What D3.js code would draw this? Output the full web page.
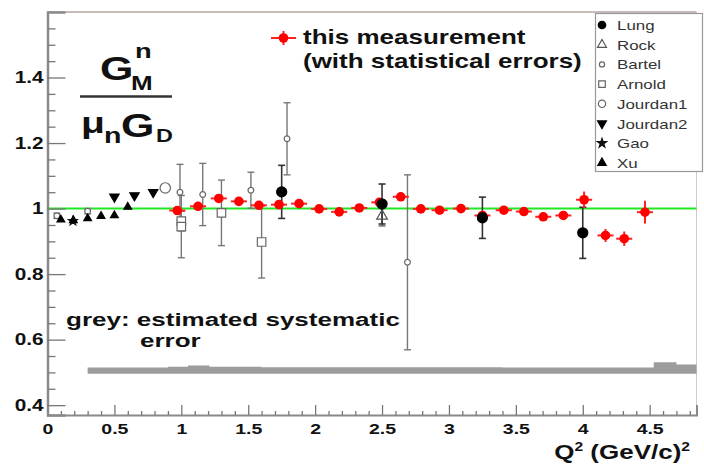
<!DOCTYPE html>
<html><head><meta charset="utf-8">
<script src="https://cdn.jsdelivr.net/npm/d3@7"></script>
<style>
html,body{margin:0;padding:0;background:#fff;}
svg{display:block;font-family:"Liberation Sans",Arial,Helvetica,sans-serif;}
</style></head>
<body>
<svg id="c" width="704" height="467"></svg>
<script>
// ---------- data ----------
const xTickLabels = ["0","0.5","1","1.5","2","2.5","3","3.5","4","4.5"];
const yTickLabels = ["0.4","0.6","0.8","1","1.2","1.4"];

// this measurement (red)
const thisQ2  = [0.97,1.125,1.28,1.43,1.58,1.73,1.88,2.03,2.18,2.33,2.48,2.64,2.79,2.93,3.09,3.25,3.41,3.56,3.705,3.855,4.01,4.17,4.31,4.465];
const thisVal = [0.994,1.007,1.031,1.022,1.010,1.012,1.015,0.999,0.990,1.002,1.019,1.036,0.999,0.995,1.000,0.979,0.995,0.991,0.975,0.979,1.027,0.918,0.908,0.989];
const thisErr = [0.010,0.008,0.008,0.008,0.008,0.008,0.008,0.008,0.008,0.008,0.008,0.008,0.008,0.008,0.008,0.010,0.010,0.010,0.010,0.012,0.025,0.020,0.022,0.035];
const thisQ2Err = 0.06;

const lungQ2 = [1.75,2.5,3.25,4.0];
const lungVal = [1.051,1.014,0.972,0.926];
const lungErr = [0.081,0.061,0.063,0.078];

const rockQ2 = [2.5];
const rockVal = [0.977];
const rockErr = [0.03];

const bartelQ2 = [0.07,0.3,0.99,1.16,1.52,1.79,2.69];
const bartelVal = [0.978,0.992,1.050,1.043,1.056,1.213,0.836];
const bartelErr = [0.008,0.008,0.085,0.095,0.055,0.110,0.267];

const arnoldQ2 = [1.0,1.0,1.3,1.6];
const arnoldVal = [0.962,0.945,0.987,0.898];
const arnoldErr = [0.03,0.095,0.100,0.110];

const jourdan1Q2 = [0.88];
const jourdan1Val = [1.063];

const jourdan2Q2 = [0.5,0.65,0.79];
const jourdan2Val = [1.036,1.040,1.050];

const gaoQ2 = [0.19];
const gaoVal = [0.962];

const xuQ2 = [0.1,0.193,0.3,0.4,0.5,0.6];
const xuVal = [0.966,0.964,0.970,0.977,0.979,1.005];

// systematic error band (grey)
const systEdges = [0.3,0.9,1.05,1.21,1.6,3.4,4.53,4.70,4.85];
const systTop   = [0.515,0.517,0.521,0.517,0.516,0.515,0.531,0.524];
const systBase  = 0.496;

const legendNames = ["Lung","Rock","Bartel","Arnold","Jourdan1","Jourdan2","Gao","Xu"];

// ---------- setup ----------
const svg = d3.select("#c");
const SX = 1.3; // horizontal text stretch of the reference
const FONT = '"Liberation Sans",Arial,Helvetica,sans-serif';
const x = d3.scaleLinear().domain([0,4.85]).range([47.5,696.5]);
const y = d3.scaleLinear().domain([0.37,1.6]).range([415,12]);

function txt(g, px, py, str, size, weight, anchor, fill){
  return g.append("text")
    .attr("transform",`translate(${px},${py}) scale(${SX},1)`)
    .attr("font-size",size).attr("font-weight",weight||"bold")
    .attr("text-anchor",anchor||"start").attr("fill",fill||"#111")
    .text(str);
}

// frame (top/right)
svg.append("line").attr("x1",x(0)).attr("x2",x(4.85)).attr("y1",y(1.6)).attr("y2",y(1.6))
  .attr("stroke","#b8a4a4").attr("stroke-width",1.5);
svg.append("line").attr("x1",x(4.85)).attr("x2",x(4.85)).attr("y1",y(1.6)).attr("y2",y(0.37))
  .attr("stroke","#ccc").attr("stroke-width",1);

// systematic band
const bandPts = systEdges.map((e,i)=>({q:e, t: systTop[Math.min(i, systTop.length-1)]}));
svg.append("path").datum(bandPts)
  .attr("d", d3.area().curve(d3.curveStepAfter).x(d=>x(d.q)).y0(y(systBase)).y1(d=>y(d.t)))
  .attr("fill","#9c9c9c");

// green line at 1
svg.append("line").attr("x1",x(0)).attr("x2",x(4.85)).attr("y1",y(1)).attr("y2",y(1))
  .attr("stroke","#22e622").attr("stroke-width",2);

// axes
const xMajor = xTickLabels.map(Number);
const xMinor = d3.range(0,4.85,0.1).filter(v=>Math.abs(v*2-Math.round(v*2))>1e-6);
const yMajor = yTickLabels.map(Number);
const yMinor = d3.range(0.4,1.6001,0.05).filter(v=>Math.abs(v*5-Math.round(v*5))>1e-6);

const gx = svg.append("g").attr("transform",`translate(0,${y(0.37)})`);
gx.call(d3.axisBottom(x).tickValues(xMajor).tickSize(-10).tickPadding(8).tickFormat((d,i)=>xTickLabels[i]));
gx.append("g").call(d3.axisBottom(x).tickValues(xMinor).tickSize(-4).tickFormat(""));
gx.selectAll("path.domain").attr("stroke","#8a8a8a").attr("stroke-width",2);
gx.selectAll("line").attr("stroke","#777").attr("stroke-width",1.3);
gx.selectAll("text").attr("font-size",15).attr("font-weight","bold").attr("fill","#111")
  .attr("font-family",FONT).attr("transform",`scale(${SX},1)`);
gx.selectAll(".domain").filter((d,i,n)=>n[i].parentNode!==gx.node()).remove();

const gy = svg.append("g").attr("transform",`translate(${x(0)},0)`);
gy.call(d3.axisLeft(y).tickValues(yMajor).tickSize(-18).tickPadding(3).tickFormat((d,i)=>yTickLabels[i]));
gy.append("g").call(d3.axisLeft(y).tickValues(yMinor).tickSize(-8).tickFormat(""));
gy.selectAll("path.domain").attr("stroke","#8a8a8a").attr("stroke-width",2.5);
gy.selectAll("line").attr("stroke","#777").attr("stroke-width",1.3);
gy.selectAll("text").attr("font-size",16).attr("font-weight","bold").attr("fill","#111")
  .attr("font-family",FONT).attr("transform",`scale(${SX},1)`);
gy.selectAll(".domain").filter((d,i,n)=>n[i].parentNode!==gy.node()).remove();

// ---------- markers ----------
const sym = {
  lung:  {type:d3.symbolCircle, size:80, fill:"#000", stroke:"#000"},
  rock:  {type:d3.symbolTriangle, size:50, fill:"none", stroke:"#555"},
  bartel:{type:d3.symbolCircle, size:26, fill:"#fff", stroke:"#666"},
  arnold:{type:d3.symbolSquare, size:72, fill:"#fff", stroke:"#666"},
  jourdan1:{type:d3.symbolCircle, size:85, fill:"#fff", stroke:"#666"},
  jourdan2:{type:d3.symbolTriangle, size:38, fill:"#000", stroke:"#000", rot:180},
  gao:   {type:d3.symbolStar, size:24, fill:"#111", stroke:"#111"},
  xu:    {type:d3.symbolTriangle, size:26, fill:"#000", stroke:"#000"}
};
function drawSym(g, s, px, py, scale){
  g.append("path").attr("d", d3.symbol().type(s.type).size(s.size*(scale||1))())
   .attr("transform",`translate(${px},${py})${s.rot?` rotate(${s.rot})`:""}`)
   .attr("fill",s.fill).attr("stroke",s.stroke).attr("stroke-width",1.2);
}
function errBars(g, qs, vs, es, color, w){
  qs.forEach((q,i)=>{
    const X=x(q), y1=y(vs[i]-es[i]), y2=y(vs[i]+es[i]);
    g.append("line").attr("x1",X).attr("x2",X).attr("y1",y1).attr("y2",y2).attr("stroke",color).attr("stroke-width",w);
    [y1,y2].forEach(yy=>g.append("line").attr("x1",X-3.5).attr("x2",X+3.5).attr("y1",yy).attr("y2",yy).attr("stroke",color).attr("stroke-width",w));
  });
}
const gd = svg.append("g");
errBars(gd, bartelQ2, bartelVal, bartelErr, "#777", 1.4);
errBars(gd, arnoldQ2, arnoldVal, arnoldErr, "#777", 1.4);
errBars(gd, rockQ2, rockVal, rockErr, "#666", 1.4);
errBars(gd, lungQ2, lungVal, lungErr, "#333", 1.6);

// this measurement
const gr = svg.append("g");
thisQ2.forEach((q,i)=>{
  gr.append("line").attr("x1",x(q-thisQ2Err)).attr("x2",x(q+thisQ2Err)).attr("y1",y(thisVal[i])).attr("y2",y(thisVal[i]))
    .attr("stroke","#ff2020").attr("stroke-width",2);
  gr.append("line").attr("x1",x(q)).attr("x2",x(q)).attr("y1",y(thisVal[i]-thisErr[i])).attr("y2",y(thisVal[i]+thisErr[i]))
    .attr("stroke","#ff2020").attr("stroke-width",2);
});
const gm = svg.append("g");
bartelQ2.forEach((q,i)=>drawSym(gm, sym.bartel, x(q), y(bartelVal[i])));
arnoldQ2.forEach((q,i)=>drawSym(gm, sym.arnold, x(q), y(arnoldVal[i])));
jourdan1Q2.forEach((q,i)=>drawSym(gm, sym.jourdan1, x(q), y(jourdan1Val[i])));
jourdan2Q2.forEach((q,i)=>drawSym(gm, sym.jourdan2, x(q), y(jourdan2Val[i])));
gaoQ2.forEach((q,i)=>drawSym(gm, sym.gao, x(q), y(gaoVal[i])));
xuQ2.forEach((q,i)=>drawSym(gm, sym.xu, x(q), y(xuVal[i])));
thisQ2.forEach((q,i)=>gm.append("circle").attr("cx",x(q)).attr("cy",y(thisVal[i])).attr("r",4.8).attr("fill","#ff0000"));
rockQ2.forEach((q,i)=>drawSym(gm, sym.rock, x(q), y(rockVal[i])));
lungQ2.forEach((q,i)=>drawSym(gm, sym.lung, x(q), y(lungVal[i])));

// ---------- legend box ----------
const lg = svg.append("g");
lg.append("rect").attr("x",595.5).attr("y",13.5).attr("width",107).attr("height",158)
  .attr("fill","#fff").attr("stroke","#999").attr("stroke-width",1.2);
const legSyms = [sym.lung,sym.rock,sym.bartel,sym.arnold,sym.jourdan1,sym.jourdan2,sym.gao,sym.xu];
const legScale = [0.55,0.7,0.8,0.6,0.5,0.9,1.1,1.2];
legendNames.forEach((n,i)=>{
  const ry = 25 + i*19.7;
  drawSym(lg, legSyms[i], 602, ry, legScale[i]);
  txt(lg, 617, ry+5, n, 13, "normal", "start", "#333");
});

// this measurement legend
const tm = svg.append("g");
tm.append("line").attr("x1",271).attr("x2",296).attr("y1",38).attr("y2",38).attr("stroke","#ff2020").attr("stroke-width",2);
tm.append("line").attr("x1",283.5).attr("x2",283.5).attr("y1",31).attr("y2",45).attr("stroke","#ff2020").attr("stroke-width",2);
tm.append("circle").attr("cx",283.5).attr("cy",38).attr("r",4.8).attr("fill","#ff0000");
const tmt = tm.append("text").attr("transform",`translate(303,44) scale(${SX},1)`)
  .attr("font-size",20).attr("font-weight","bold").attr("fill","#111");
tmt.append("tspan").attr("x",0).attr("y",0).text("this measurement");
tmt.append("tspan").attr("x",0).attr("y",24).text("(with statistical errors)");

// grey text (two lines)
const gt = svg.append("text").attr("transform",`translate(66,325.5) scale(1.37,1)`)
  .attr("font-size",19).attr("font-weight","bold").attr("fill","#111");
gt.append("tspan").attr("x",0).attr("y",0).text("grey: estimated systematic");
gt.append("tspan").attr("x",54).attr("y",22).text("error");

// x title
const xt = svg.append("text").attr("transform",`translate(690,459) scale(${SX},1)`)
  .attr("font-size",20).attr("font-weight","bold").attr("text-anchor","end").attr("fill","#111");
xt.append("tspan").text("Q");
xt.append("tspan").attr("font-size",12).attr("dy",-8).text("2");
xt.append("tspan").attr("dy",8).text(" (GeV/c)");
xt.append("tspan").attr("font-size",12).attr("dy",-8).text("2");

// y title fraction
const yt = svg.append("g");
txt(yt, 100, 80, "G", 33, "bold");
txt(yt, 135, 58, "n", 21, "bold");
txt(yt, 131, 90, "M", 20, "bold");
yt.append("line").attr("x1",80).attr("x2",172).attr("y1",96.5).attr("y2",96.5).attr("stroke","#333").attr("stroke-width",2.5);
txt(yt, 81, 133, "\u03bc", 30, "bold");
txt(yt, 104, 143, "n", 22, "bold");
txt(yt, 121, 137, "G", 33, "bold");
txt(yt, 156, 142, "D", 18, "bold");
</script>
</body></html>
